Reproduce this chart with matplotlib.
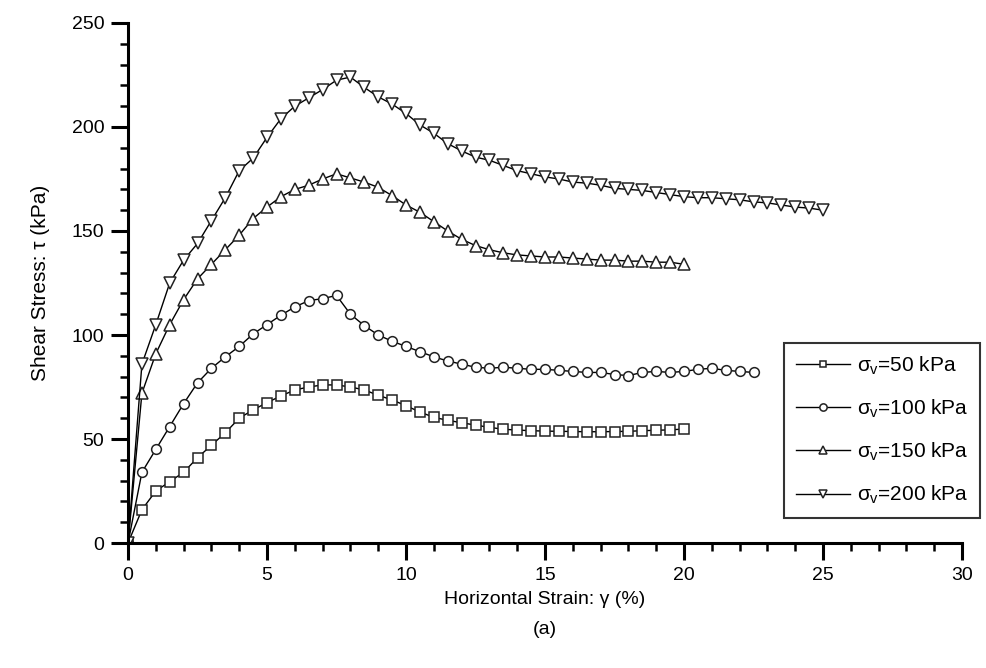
import numpy as np
import matplotlib
matplotlib.use("Agg")
import matplotlib.pyplot as plt
from matplotlib.ticker import MultipleLocator

plt.rcParams['font.family'] = ['Liberation Sans', 'DejaVu Sans']
plt.rcParams['mathtext.fontset'] = 'custom'
plt.rcParams['mathtext.rm'] = 'Liberation Sans'
plt.rcParams['mathtext.it'] = 'Liberation Sans'

# strain (%) and shear stress (kPa)
x50 = np.arange(0, 20.01, 0.5)
y50 = [0, 16, 25, 29.5, 34, 41, 47, 53, 60, 64, 67.5, 70.7, 73.6, 75, 76, 76,
       75, 73.6, 71, 68.8, 66, 63, 60.4, 59, 57.8, 56.7, 55.6, 54.7, 54.3, 54,
       53.8, 53.7, 53.6, 53.5, 53.5, 53.6, 53.7, 54, 54.2, 54.4, 54.8]

x100 = np.arange(0, 22.51, 0.5)
y100 = [0, 34, 45, 56, 67, 77, 84, 89.5, 94.5, 100.5, 105, 109.5, 113.5, 116.5,
        117.5, 119, 110, 104.5, 100, 97, 94.5, 92, 89.5, 87.5, 86, 84.5, 84,
        84.5, 84, 83.5, 83.5, 83, 82.5, 82, 82, 81, 80.5, 82, 82.5, 82, 82.5,
        83.5, 84, 83, 82.5, 82]

x150 = np.arange(0, 20.01, 0.5)
y150 = [0, 72, 91, 105, 117, 127, 134, 141, 148, 156, 161.5, 166.5, 170, 172,
        175, 177.5, 175.5, 173.5, 171, 167, 162.5, 159, 154.5, 150, 146, 143,
        141, 139.5, 138.5, 138, 137.5, 137.5, 137, 136.5, 136, 136, 135.5,
        135.5, 135, 135, 134]

x200 = np.arange(0, 25.01, 0.5)
y200 = [0, 86, 105, 125, 136, 144, 155, 166, 179, 185, 195, 204, 210, 214, 218,
        222.5, 224, 219, 214.5, 211, 206.5, 201, 197, 192, 188.5, 185.5, 184,
        181.5, 179, 177.5, 176, 175, 173.5, 173, 172, 170.5, 170, 169.5, 168.5,
        167.5, 166.5, 166, 166, 165.5, 165, 164, 163.5, 162.5, 161.5, 161, 160]

labels = [r'$\sigma_v$=50 kPa', r'$\sigma_v$=100 kPa',
          r'$\sigma_v$=150 kPa', r'$\sigma_v$=200 kPa']

fig = plt.figure(figsize=(9.87, 6.68), dpi=100)
ax = fig.add_axes([0.1297, 0.1871, 0.845, 0.7785])

style = dict(color='black', lw=1.0, mfc='white', mec='#222222', mew=1.1)
ax.plot(x50, y50, marker='s', ms=6.5, label=labels[0], **style)
ax.plot(x100, y100, marker='o', ms=7, label=labels[1], **style)
ax.plot(x150, y150, marker='^', ms=8, label=labels[2], **style)
ax.plot(x200, y200, marker='v', ms=8, label=labels[3], **style)

ax.set_xlim(0, 30)
ax.set_ylim(0, 250)
ax.xaxis.set_major_locator(MultipleLocator(5))
ax.xaxis.set_minor_locator(MultipleLocator(1))
ax.yaxis.set_major_locator(MultipleLocator(50))
ax.yaxis.set_minor_locator(MultipleLocator(10))

for s in ['top', 'right']:
    ax.spines[s].set_visible(False)
for s in ['left', 'bottom']:
    ax.spines[s].set_linewidth(2.2)
ax.tick_params(which='major', direction='out', length=12, width=2.2,
               labelsize=14, pad=5)
ax.tick_params(which='minor', direction='out', length=6, width=1.8)

ax.set_xlabel('Horizontal Strain: γ (%)', fontsize=14, labelpad=5)
ax.set_ylabel('Shear Stress: τ (kPa)', fontsize=15, labelpad=16)
fig.text(0.552, 0.058, '(a)', ha='center', va='center', fontsize=14)

leg = ax.legend(loc='upper right', bbox_to_anchor=(0.993, 0.4865),
                bbox_transform=fig.transFigure, fontsize=15, frameon=True,
                fancybox=False, edgecolor='black', handlelength=2.6,
                handletextpad=0.35, labelspacing=1.0, borderpad=0.55,
                borderaxespad=0, markerscale=0.75)
leg.get_frame().set_linewidth(1.5)

fig.savefig('out.png', dpi=100)
